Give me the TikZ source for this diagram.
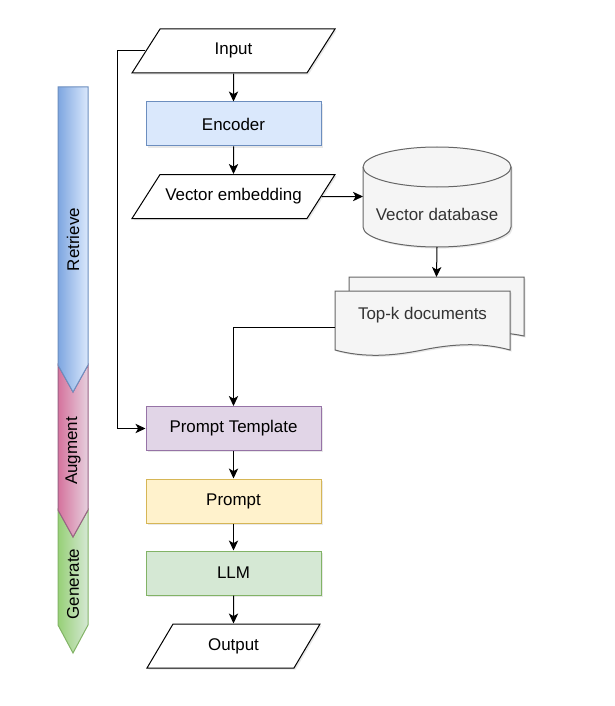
\documentclass[tikz,border=0pt]{standalone}
\usepackage{fontspec}
\setmainfont{Liberation Sans}
\usetikzlibrary{arrows.meta, calc, shapes.geometric, shadows}
\definecolor{BlueFill}{HTML}{DAE8FC}
\definecolor{BlueLine}{HTML}{6C8EBF}
\definecolor{BlueDark}{HTML}{7EA6E0}
\definecolor{PurpleFill}{HTML}{E1D5E7}
\definecolor{PurpleLine}{HTML}{9673A6}
\definecolor{YellowFill}{HTML}{FFF2CC}
\definecolor{YellowLine}{HTML}{D6B656}
\definecolor{GreenFill}{HTML}{D5E8D4}
\definecolor{GreenLine}{HTML}{82B366}
\definecolor{GreenDark}{HTML}{97D077}
\definecolor{PinkFill}{HTML}{E6D0DE}
\definecolor{PinkLine}{HTML}{996185}
\definecolor{PinkDark}{HTML}{D5739D}
\definecolor{GrayFill}{HTML}{F5F5F5}
\definecolor{GrayLine}{HTML}{666666}
\definecolor{GrayText}{HTML}{333333}
\tikzset{
	soft shadow/.style={drop shadow={opacity=0.18, shadow xshift=1.2pt, shadow yshift=-1.2pt}},
	box/.style={draw=#1Line, fill=#1Fill, line width=0.75pt, minimum width=131.25pt, minimum height=33pt, soft shadow},
	io/.style={trapezium, trapezium left angle=57.5, trapezium right angle=122.5, trapezium stretches body, text height=9pt, text depth=3pt, inner ysep=10.5pt, draw, fill=white, line width=0.75pt, minimum width=152.25pt, minimum height=33pt, soft shadow},
	phase/.style={draw=#1Line, left color=#1Dark, right color=#1Fill, line width=0.75pt},
	grayshape/.style={draw=GrayLine, fill=GrayFill, line width=0.75pt},
	flow/.style={-{Stealth[length=7.5pt, width=7pt, inset=2pt]}, line width=0.75pt}
}

\begin{document}
\begin{tikzpicture}[x=0.75pt, y=0.75pt, every node/.style={font=\fontsize{12.7pt}{15pt}\selectfont, inner sep=0pt}]
	\useasboundingbox (0,0) rectangle (614,-706);
	\fill[white] (0,0) rectangle (614,-706);
	
	% phases
	\draw[phase=Green] (58,-510) -- (73,-537) -- (88,-510) -- (88,-625) -- (73,-653) -- (58,-625) -- cycle;
	\draw[phase=Pink] (58,-365) -- (73,-392) -- (88,-365) -- (88,-510) -- (73,-537) -- (58,-510) -- cycle;
	\draw[phase=Blue] (58,-87) -- (88,-87) -- (88,-365) -- (73,-392) -- (58,-365) -- cycle;
	\node[rotate=90] (retrieve) at (73,-239.5) {Retrieve};
	\node[rotate=90] (augment) at (73,-451) {Augment};
	\node[rotate=90] (generate) at (73,-584) {Generate};
	
	% flow
	\node[io] (in) at (233.5,-51) {Input};
	\node[box=Blue] (enc) at (233.5,-124) {Encoder};
	\node[io] (emb) at (233.5,-196.5) {Vector embedding};
	\node[box=Purple] (tpl) at (233.5,-428.5) {Prompt Template};
	\node[box=Yellow] (prm) at (233.5,-501) {Prompt};
	\node[box=Green] (llm) at (233.5,-573) {LLM};
	\node[io, trapezium left angle=59.4, trapezium right angle=120.6, minimum width=129.75pt] (out) at (233.5,-646) {Output};
	
	% vector database
	\draw[grayshape, soft shadow] (363,-167) -- (363,-227) arc[start angle=180, end angle=360, x radius=55.5pt, y radius=15pt] -- (511,-167) arc[start angle=0, end angle=180, x radius=55.5pt, y radius=15pt] -- cycle;
	\draw[draw=GrayLine, line width=0.75pt] (363,-167) arc[start angle=180, end angle=360, x radius=55.5pt, y radius=15pt];
	\node[text=GrayText] (db) at (437,-214) {Vector database};
	
	% documents
	\draw[grayshape, soft shadow] (349,-277) -- (524,-277) -- (524,-336) .. controls (495,-330) and (466,-332) .. (436.5,-336) .. controls (407,-342) and (378,-344) .. (349,-336) -- cycle;
	\draw[grayshape, soft shadow] (335,-291) -- (510,-291) -- (510,-350) .. controls (481,-342) and (452,-344) .. (422.5,-350) .. controls (393,-356) and (364,-358) .. (335,-350) -- cycle;
	\node[text=GrayText] (docs) at (422.5,-315) {Top-k documents};
	
	\coordinate (dbin) at (363,-196.5);
	\coordinate (dbout) at (437,-247);
	\coordinate (docsin) at (436.5,-277);
	\coordinate (docsout) at (335,-327);
	\coordinate (inbend) at (117,-428.5);
	
	\draw[flow] (in.south) -- (enc.north);
	\draw[flow] (enc.south) -- (emb.north);
	\draw[flow] (emb.east) -- (dbin);
	\draw[flow] (dbout) -- (docsin);
	\draw[flow] (docsout) -| (tpl.north);
	\draw[flow] (in.west) -| (inbend) -- (tpl.west);
	\draw[flow] (tpl.south) -- (prm.north);
	\draw[flow] (prm.south) -- (llm.north);
	\draw[flow] (llm.south) -- (out.north);
\end{tikzpicture}
\end{document}
